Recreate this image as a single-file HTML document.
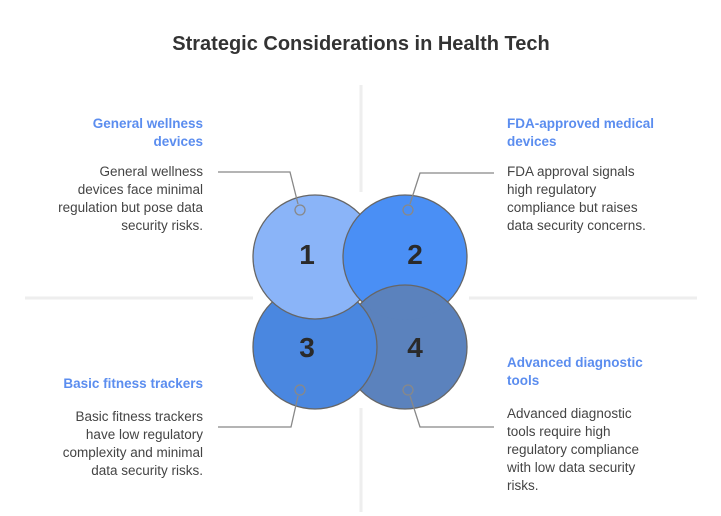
<!DOCTYPE html>
<html><head><meta charset="utf-8"><style>
html,body{margin:0;padding:0;background:#fff;}
svg{display:block;font-family:"Liberation Sans",sans-serif;}
.h{fill:#5b8def;font-weight:bold;font-size:13.5px;}
.b{fill:#444;font-size:13.5px;}
</style></head><body>
<svg width="721" height="516" viewBox="0 0 721 516">
<defs><clipPath id="c2"><circle cx="405" cy="257" r="63"/></clipPath></defs>
<text x="361" y="50" text-anchor="middle" font-size="20" font-weight="bold" fill="#333">Strategic Considerations in Health Tech</text>
<g stroke="#eeeeee" stroke-width="3">
<line x1="361" y1="85" x2="361" y2="192"/><line x1="361" y1="408" x2="361" y2="512"/>
<line x1="25" y1="298" x2="253" y2="298"/><line x1="469" y1="298" x2="697" y2="298"/>
</g>
<g stroke="#666" stroke-width="1.3">
<circle cx="405" cy="347" r="62" fill="#5b82bd"/>
<circle cx="315" cy="347" r="62" fill="#4a87e0"/>
<circle cx="315" cy="257" r="62" fill="#8ab4f8"/>
<circle cx="405" cy="257" r="62" fill="#4a8ff5"/>
<circle cx="405" cy="347" r="62" fill="#5b82bd" clip-path="url(#c2)"/>
</g>
<g font-size="28" font-weight="bold" fill="#2a2a2a" text-anchor="middle">
<text x="307" y="264">1</text><text x="415" y="264">2</text>
<text x="307" y="357">3</text><text x="415" y="357">4</text>
</g>
<g stroke="#888" stroke-width="1.3" fill="none">
<polyline points="218,172 290,172 298,204"/><circle cx="300" cy="210" r="5"/>
<polyline points="494,173 420,173 410,204"/><circle cx="408" cy="210" r="5"/>
<polyline points="218,427 291,427 298,396"/><circle cx="300" cy="390" r="5"/>
<polyline points="494,427 420,427 410,396"/><circle cx="408" cy="390" r="5"/>
</g>
<g text-anchor="end">
<text class="h" x="203" y="128">General wellness</text>
<text class="h" x="203" y="146">devices</text>
<text class="b" x="203" y="176">General wellness</text>
<text class="b" x="203" y="194">devices face minimal</text>
<text class="b" x="203" y="212">regulation but pose data</text>
<text class="b" x="203" y="230">security risks.</text>
<text class="h" x="203" y="388">Basic fitness trackers</text>
<text class="b" x="203" y="421">Basic fitness trackers</text>
<text class="b" x="203" y="439">have low regulatory</text>
<text class="b" x="203" y="457">complexity and minimal</text>
<text class="b" x="203" y="475">data security risks.</text>
</g>
<g>
<text class="h" x="507" y="128">FDA-approved medical</text>
<text class="h" x="507" y="146">devices</text>
<text class="b" x="507" y="176">FDA approval signals</text>
<text class="b" x="507" y="194">high regulatory</text>
<text class="b" x="507" y="212">compliance but raises</text>
<text class="b" x="507" y="230">data security concerns.</text>
<text class="h" x="507" y="367">Advanced diagnostic</text>
<text class="h" x="507" y="385">tools</text>
<text class="b" x="507" y="418">Advanced diagnostic</text>
<text class="b" x="507" y="436">tools require high</text>
<text class="b" x="507" y="454">regulatory compliance</text>
<text class="b" x="507" y="472">with low data security</text>
<text class="b" x="507" y="490">risks.</text>
</g>
</svg>
</body></html>
